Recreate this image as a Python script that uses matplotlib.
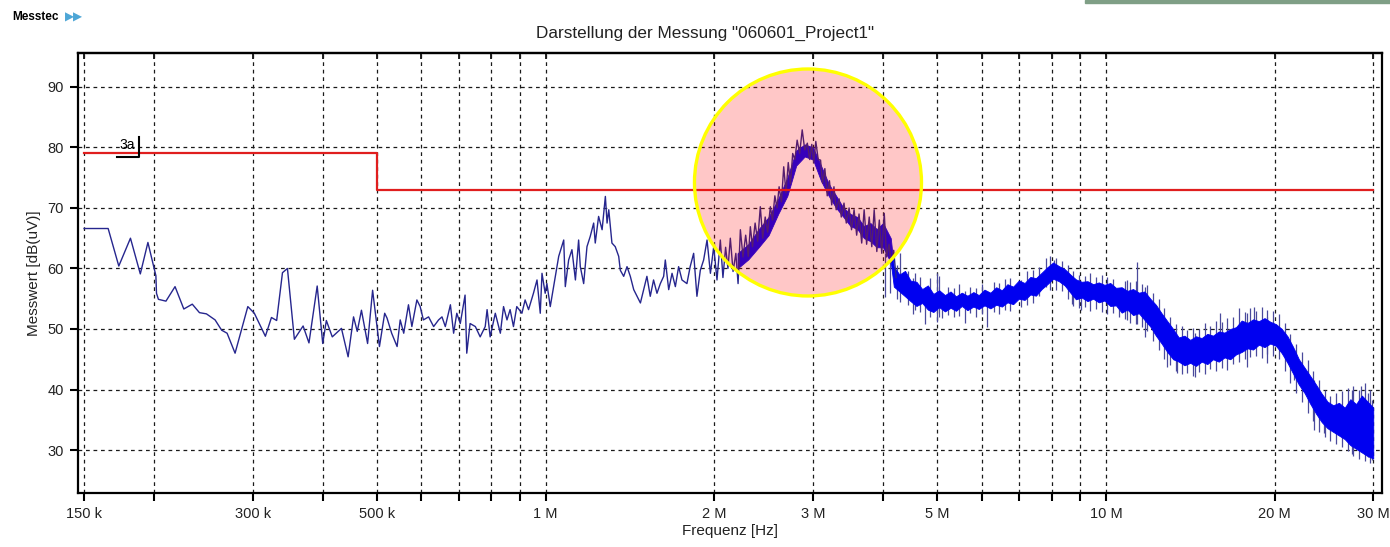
import numpy as np
import matplotlib
matplotlib.use("Agg")
import matplotlib.pyplot as plt
from matplotlib import transforms as mtrans
from matplotlib.patches import Ellipse, Rectangle
from matplotlib.ticker import FixedLocator, FixedFormatter, NullFormatter

plt.rcParams['font.family'] = ['Liberation Sans', 'DejaVu Sans']

# measured trace, sparse part (kHz, dBuV)
trace_khz = [150, 165.6, 173, 181.5, 189, 195, 201.5, 202, 203.6, 210, 218, 226, 234, 241, 248,
             257, 264, 270, 279, 294, 302, 316, 324, 331, 339, 346, 356, 369, 378, 391, 400, 406,
             416, 432, 444, 454, 461, 469, 481, 491, 505, 516,
             521, 531, 543, 550, 558, 569, 577, 589, 597, 605, 618, 631, 644, 653, 662, 676, 685,
             694, 704, 718, 723, 733, 749, 764, 780, 786, 796, 813, 830, 841, 853, 864, 876, 888,
             907, 919, 932, 951, 965, 978, 985, 998, 1005, 1019, 1033, 1055,
             1077, 1084, 1099, 1114, 1130, 1145, 1153, 1169, 1185, 1201, 1218, 1226, 1243, 1261,
             1278, 1287, 1296, 1313, 1331, 1350, 1359, 1378, 1397, 1416, 1436, 1456, 1476, 1496,
             1516, 1537, 1558, 1580, 1602, 1624, 1635, 1658, 1681, 1704, 1727, 1751, 1787, 1811,
             1837, 1862, 1888, 1914, 1941, 1968, 1995, 2022,
             2050, 2072, 2095, 2115, 2136, 2160, 2185, 2205, 2226, 2250, 2275, 2300, 2319, 2340,
             2365, 2390, 2416, 2440, 2465, 2490, 2518, 2540, 2565, 2588, 2610, 2635, 2660, 2685,
             2710, 2735, 2760, 2785, 2811, 2840, 2870, 2900, 2931, 2960, 2985, 3010, 3035, 3065,
             3095, 3120, 3150, 3181, 3210, 3240, 3270, 3300, 3340, 3370, 3408, 3440, 3480, 3515,
             3552, 3590, 3625, 3665, 3702, 3740, 3780, 3820, 3858, 3900, 3940, 3980, 4021, 4060,
             4100, 4133, 4180, 4221]
trace_db = [66.6, 66.6, 60.4, 65.0, 59.1, 64.3, 58.8, 55.9, 54.9, 54.6, 57.0, 53.3, 54.1, 52.7, 52.5,
            51.5, 49.8, 49.3, 46.0, 53.7, 52.6, 48.8, 51.9, 51.4, 59.3, 60.0, 48.3, 50.5, 47.7, 57.1,
            47.6, 51.4, 48.7, 50.1, 45.4, 52.0, 49.6, 53.1, 47.6, 56.4, 47.1, 52.6,
            51.8, 49.3, 47.1, 51.5, 49.3, 54.0, 50.4, 54.8, 53.7, 51.5, 52.0, 50.4, 51.5, 52.0, 50.4,
            54.0, 49.3, 52.6, 50.9, 55.6, 46.0, 50.9, 50.4, 48.7, 50.4, 53.2, 48.7, 52.6, 49.3, 53.7,
            51.5, 53.2, 50.4, 53.7, 52.6, 54.8, 53.2, 55.9, 58.1, 52.6, 59.2, 55.9, 57.5, 53.7, 57.0,
            62.0,
            64.7, 57.0, 61.4, 63.1, 58.1, 64.7, 60.3, 57.5, 63.6, 65.3, 67.5, 64.2, 68.6, 66.4, 71.9,
            67.5, 69.7, 64.2, 63.6, 62.0, 59.7, 58.7, 60.3, 58.7, 56.5, 55.4, 54.3, 56.5, 58.7, 55.4,
            58.1, 55.9, 57.5, 58.7, 61.4, 56.5, 59.2, 57.0, 60.3, 58.1, 57.5, 60.3, 62.5, 55.4, 59.7,
            61.4, 64.7, 59.2, 63.6, 58.1,
            64.7, 58.5, 63.5, 60.0, 65.0, 59.5, 62.5, 57.5, 66.4, 61.9, 65.5, 62.0, 66.9, 63.6, 67.5,
            64.5, 70.2, 65.0, 68.5, 66.0, 70.2, 68.0, 72.0, 70.0, 73.5, 71.0, 76.8, 72.5, 77.5, 74.0,
            79.0, 78.0, 81.2, 79.0, 82.9, 79.6, 80.7, 78.0, 80.5, 77.5, 81.0, 78.0, 77.9, 74.1, 76.5,
            72.0, 74.5, 70.5, 73.5, 69.7, 71.5, 68.5, 70.8, 67.5, 70.0, 66.4, 69.7, 65.5, 69.0, 64.2,
            69.7, 64.0, 68.5, 63.6, 69.7, 62.8, 68.0, 62.5, 69.1, 61.9, 64.0, 61.0, 63.0, 58.5]

# dense part of the sweep: envelope of the solid band
band_khz = [2200, 2300, 2400, 2500, 2600, 2700, 2800, 2900, 3000, 3100, 3200, 3300, 3400, 3500,
            3600, 3700, 3800, 3900, 4000, 4130,
            4182, 4280, 4380, 4480, 4590, 4700, 4810, 4920, 5040, 5160, 5280, 5400, 5530, 5660,
            5800, 5930, 6070, 6220, 6370, 6520, 6670, 6830, 6990, 7160, 7330, 7500, 7680, 7860,
            8050, 8240, 8440, 8640, 8840, 9050, 9270, 9490, 9710, 9940, 10180, 10420, 10670,
            10920, 11180, 11450, 11720, 12000, 12280, 12570, 12870, 13180, 13490, 13810, 14140,
            14480, 14820, 15170, 15530, 15900, 16280, 16670, 17070, 17470, 17890, 18310, 18750,
            19190, 19650, 20120, 20600, 21090, 21590, 22100, 22630, 23170, 23720, 24280, 24860,
            25450, 26060, 26680, 27310, 27960, 28630, 29310, 30000]
band_lo = [60.0, 61.5, 63.5, 65.5, 69.0, 72.0, 77.0, 78.5, 78.0, 74.5, 72.0, 70.0, 68.5, 67.0,
           66.5, 65.0, 64.5, 63.5, 63.5, 61.0,
           57.0, 56.2, 55.4, 54.6, 53.8, 54.3, 53.2, 52.8, 53.6, 52.9, 53.5, 53.0, 53.8, 53.1,
           53.7, 53.3, 53.9, 53.4, 54.0, 53.7, 54.4, 54.1, 55.0, 54.8, 55.7, 55.5, 56.6, 57.4,
           58.3, 57.9, 57.2, 56.0, 54.9, 55.2, 54.6, 55.0, 54.4, 54.7, 53.8, 53.9, 52.7,
           53.2, 52.3, 52.6, 51.5, 50.4, 48.9, 47.6, 46.2, 45.0, 44.6, 44.0, 44.4,
           43.9, 44.6, 44.2, 45.0, 44.6, 45.3, 45.0, 45.8, 46.2, 46.8, 46.6, 47.4,
           47.0, 47.6, 47.2, 46.0, 44.4, 42.6, 40.8, 39.4, 37.6, 36.0, 34.6, 33.6,
           33.0, 32.4, 31.8, 30.8, 30.2, 29.6, 29.0, 28.6]
band_hi = [62.5, 64.0, 66.5, 68.5, 71.5, 75.0, 79.5, 80.5, 80.0, 77.0, 74.0, 72.0, 70.0, 69.0,
           68.5, 67.0, 67.5, 66.5, 67.5, 65.0,
           60.3, 59.0, 59.6, 58.0, 57.8, 56.6, 57.2, 55.8, 56.4, 55.6, 56.2, 55.4, 56.0, 55.5,
           56.1, 55.6, 56.5, 56.0, 56.9, 56.4, 57.4, 57.0, 58.0, 57.6, 58.6, 58.4, 59.3, 60.2,
           61.0, 60.4, 59.9, 59.0, 58.2, 57.8, 57.9, 57.4, 57.7, 57.3, 57.6, 56.8, 56.9,
           56.3, 56.6, 56.0, 56.2, 55.0, 54.0, 52.6, 51.3, 50.0, 48.6, 48.9, 48.2,
           48.8, 48.5, 49.2, 48.9, 49.6, 49.4, 50.0, 50.3, 51.4, 51.0, 51.6, 51.3,
           51.8, 51.2, 50.8, 50.0, 48.8, 47.0, 45.0, 43.6, 42.2, 40.8, 39.3, 38.0,
           37.4, 37.8, 37.0, 38.4, 37.6, 39.0, 38.0, 37.0]

# single peaks sticking out of the band
spike_khz = [4041, 4120, 4230, 4298, 4430, 4520, 4571, 4650, 4763, 4860, 4998, 5032, 5100, 5230,
             5350, 5470, 5600, 5730, 5860, 6000, 6146, 6300, 6450, 6600, 6750, 7044, 7240, 7420,
             7600, 7803, 7950, 8071, 8150, 8340, 8540, 8699, 8740, 8940, 9011, 9160, 9380, 9600,
             9820, 10060, 10300, 10543, 10800, 10915, 11050, 11310, 11366, 11580, 11763, 11860,
             12140, 12420, 12720, 12854, 13020, 13340, 13399, 13650, 13970, 14300, 14444, 14650,
             15000, 15350, 15700, 15979, 16100, 16480, 16870, 17270, 17680, 17863, 18100, 18376,
             18530, 18970, 19399, 19420, 19880, 20360, 20850, 21340, 21657, 21850, 22370, 22900,
             23440, 23513, 24000, 24484, 24570, 25150, 25750, 26370, 26990, 27476, 27630, 28290,
             28577, 28970, 29353, 29650, 29864]
spike_lo = [55.3, 56.0, 55.0, 54.5, 54.0, 52.5, 53.1, 52.8, 50.9, 52.0, 51.2, 52.0, 51.8, 52.3,
            51.9, 52.2, 51.0, 52.6, 52.0, 52.5, 50.4, 52.8, 52.5, 53.2, 52.9, 53.7, 54.0, 54.3,
            55.5, 57.0, 56.5, 58.7, 56.5, 56.2, 55.0, 54.2, 53.8, 53.5, 53.1, 53.6, 53.0, 53.3,
            52.8, 52.4, 52.6, 52.0, 51.6, 51.5, 51.0, 50.8, 50.9, 50.4, 48.7, 49.6,
            48.0, 46.5, 45.0, 43.8, 44.0, 43.0, 42.7, 42.6, 42.8, 42.2, 42.1, 42.9,
            42.5, 43.4, 43.0, 45.4, 43.6, 43.2, 44.2, 44.5, 45.0, 43.8, 45.3, 48.2,
            45.6, 45.2, 44.3, 45.8, 45.5, 45.0, 43.0, 41.0, 41.6, 39.5, 38.0, 36.2,
            34.8, 33.3, 33.0, 32.8, 32.2, 31.5, 31.0, 30.5, 29.8, 29.4, 29.0, 28.5,
            31.1, 28.2, 28.9, 27.8, 28.3]
spike_hi = [62.5, 61.5, 60.5, 62.5, 59.5, 58.5, 59.2, 58.6, 55.3, 58.5, 59.2, 58.7, 56.0, 57.0,
            56.8, 57.4, 56.2, 57.0, 56.8, 57.5, 55.3, 57.8, 57.6, 58.3, 58.5, 58.1, 59.5, 59.8,
            60.2, 61.7, 62.0, 61.4, 61.8, 61.2, 60.6, 56.4, 59.6, 59.0, 57.0, 58.8, 59.3, 58.6,
            59.0, 58.6, 58.2, 56.4, 58.0, 58.1, 57.8, 58.0, 61.1, 57.5, 57.0, 57.2,
            56.0, 55.0, 53.4, 50.4, 52.0, 50.8, 48.7, 50.5, 49.8, 50.2, 49.3, 50.0,
            51.0, 50.5, 51.4, 52.6, 51.2, 51.8, 52.0, 53.5, 52.8, 52.6, 53.4, 53.7,
            53.0, 53.6, 52.0, 53.2, 53.0, 52.4, 51.0, 49.2, 46.5, 47.5, 46.2, 44.8,
            43.0, 41.6, 41.6, 38.8, 40.0, 39.0, 39.5, 39.8, 40.2, 39.9, 40.6, 40.0,
            40.5, 41.0, 39.4, 40.0, 38.3]

# limit line class 3a
limit_khz = [150, 500, 30000]
limit_db = [79, 73, 73]

major_khz = [150, 300, 500, 1000, 2000, 3000, 5000, 10000, 20000, 30000]
major_lbl = ["150 k", "300 k", "500 k", "1 M", "2 M", "3 M", "5 M", "10 M", "20 M", "30 M"]
minor_khz = [200, 400, 600, 700, 800, 900, 4000, 6000, 7000, 8000, 9000]
y_ticks = [30, 40, 50, 60, 70, 80, 90]

W, H = 1390, 547
fig = plt.figure(figsize=(W / 100, H / 100), dpi=100)
ax = fig.add_axes([78 / W, 1 - 493 / H, 1304 / W, 440 / H])
ax.set_xscale("log")
ax.set_xlim(146.3e3, 31.1e6)
ax.set_ylim(22.9, 95.6)

k = 1e3
ax.vlines(np.array(spike_khz) * k, spike_lo, spike_hi, color="#4a4a9c", lw=0.9, zorder=2.5)
ax.fill_between(np.array(band_khz) * k, band_lo, band_hi, color="#0000f0", lw=0.6, zorder=3)
ax.plot(np.array(trace_khz) * k, trace_db, color="#26268e", lw=1.0, zorder=4)
ax.plot(np.array(limit_khz) * k, limit_db, color="#e01e1e", lw=1.6, drawstyle="steps-post", zorder=4)

# limit label "3a" with its corner mark, offsets in pixels from limit start
off = mtrans.Affine2D() + mtrans.ScaledTranslation(limit_khz[0] * k, limit_db[0], ax.transData)
ax.plot([33, 55, 55], [-3.5, -3.5, 16.5], color="black", lw=1.5, transform=off, zorder=5)
ax.text(43, 8, "3a", transform=off, fontsize=10, ha="center", va="center", zorder=5)

# highlight circle
ax.add_patch(Ellipse((0.5598, 0.7057), 0.1741, 0.5159, transform=ax.transAxes,
                     facecolor="#ff0000", alpha=0.22, edgecolor="none", zorder=6))
ax.add_patch(Ellipse((0.5598, 0.7057), 0.1741, 0.5159, transform=ax.transAxes,
                     facecolor="none", edgecolor="#ffff00", lw=2.4, zorder=7))

ax.xaxis.set_major_locator(FixedLocator(np.array(major_khz) * k))
ax.xaxis.set_major_formatter(FixedFormatter(major_lbl))
ax.xaxis.set_minor_locator(FixedLocator(np.array(minor_khz) * k))
ax.xaxis.set_minor_formatter(NullFormatter())
ax.set_yticks(y_ticks)
ax.tick_params(which="both", direction="out", length=6, width=1.5, labelsize=10.5,
               colors="black", labelcolor="#222222", pad=4)
ax.grid(which="both", color="#1a1a1a", linestyle=(0, (3, 3)), lw=0.9, zorder=1)
ax.set_axisbelow(True)
for s in ax.spines.values():
    s.set_linewidth(1.6)

top = ax.secondary_xaxis("top")
top.xaxis.set_major_locator(FixedLocator(np.array(major_khz + minor_khz) * k))
top.tick_params(direction="in", length=4, width=1.2, labeltop=False)
top.spines["top"].set_linewidth(1.6)

ax.set_xlabel("Frequenz [Hz]", fontsize=11, color="#222222", labelpad=2)
ax.set_ylabel("Messwert [dB(uV)]", fontsize=11, color="#222222", labelpad=5)
fig.text(705 / W, 1 - 33 / H, 'Darstellung der Messung "060601_Project1"', fontsize=12.3,
         color="#222222", ha="center", va="center")

fig.text(12 / W, 1 - 17 / H, "Messtec", fontsize=8.5, fontweight="bold", va="center")
fig.text(65 / W, 1 - 17 / H, "▶▶", fontsize=8.5, color="#4da6d6", va="center",
         family=["DejaVu Sans"])
fig.add_artist(Rectangle((1085 / W, 1 - 3 / H), 305 / W, 3 / H, transform=fig.transFigure,
                         color="#7f9f86"))

fig.savefig("out.png", dpi=100)
